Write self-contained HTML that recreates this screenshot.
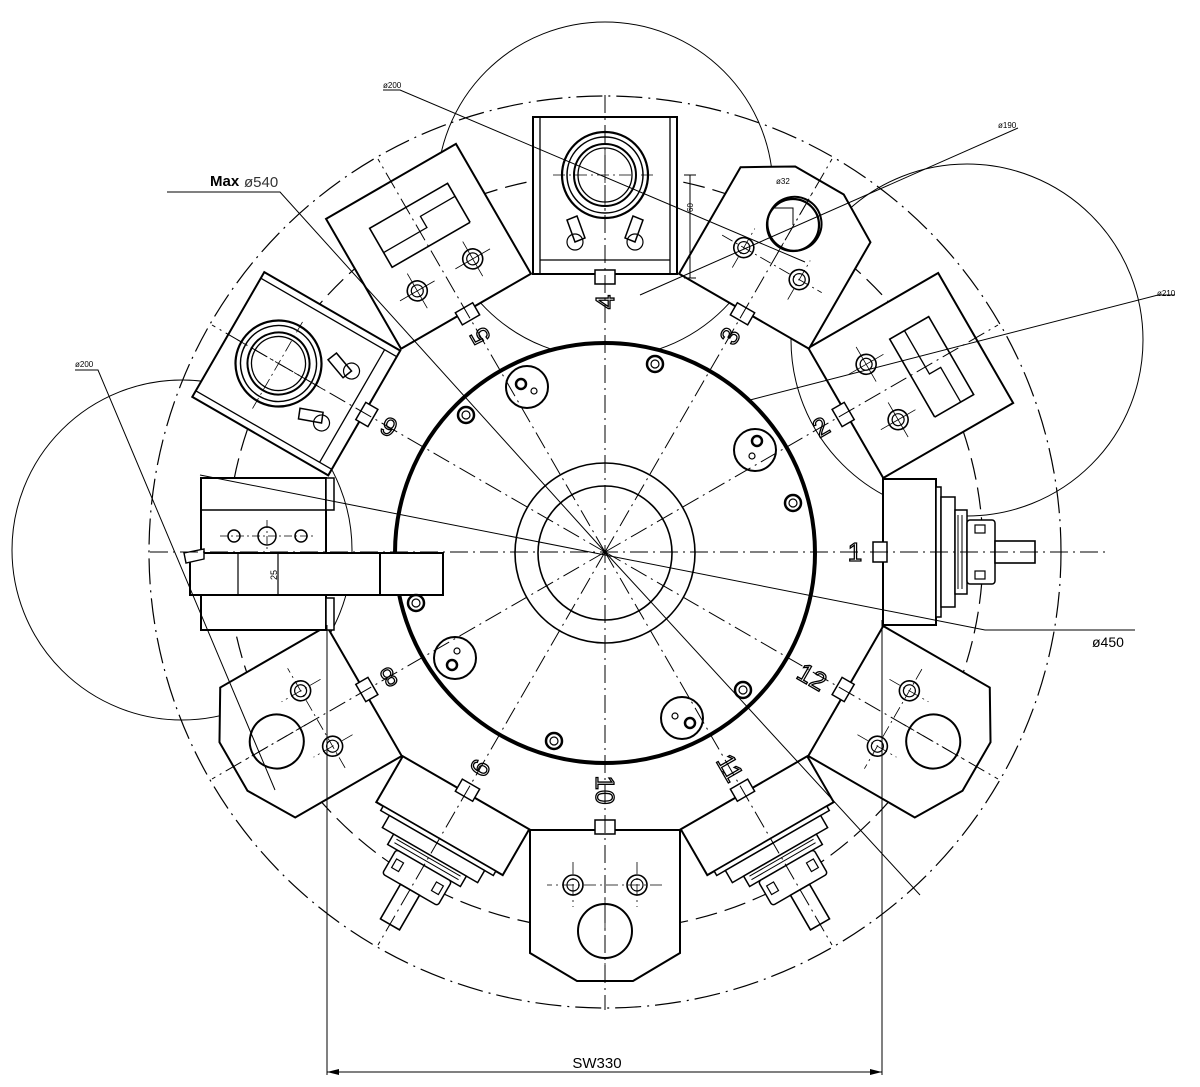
<!DOCTYPE html>
<html><head><meta charset="utf-8"><style>
html,body{margin:0;padding:0;background:#fff}
svg{display:block}
text{font-family:"Liberation Sans",sans-serif}
</style></head><body>
<svg width="1200" height="1087" viewBox="0 0 1200 1087" xmlns="http://www.w3.org/2000/svg">
<defs>
<g id="key"><rect x="873" y="542" width="14" height="20" fill="#fff" stroke="#000" stroke-width="1.5"/></g>
<g id="rectSlot" fill="none" stroke="#000">
 <polygon points="883,477 1033,477 1033,627 883,627" stroke-width="2" fill="#fff"/>
 <circle cx="925" cy="520" r="10" stroke-width="1.6"/><circle cx="925" cy="520" r="6" stroke-width="1.2"/>
 <circle cx="925" cy="584" r="10" stroke-width="1.6"/><circle cx="925" cy="584" r="6" stroke-width="1.2"/>
 <polyline points="958,600 1003,600 1003,510 958,510 958,600" stroke-width="1.6"/>
 <polyline points="975,510 975,560 988,560 988,600" stroke-width="1.3"/>
 <path d="M905,520 H945 M925,500 V540 M905,584 H945 M925,564 V604" stroke-width="0.8"/>
</g>
<g id="boring" fill="none" stroke="#000">
 <polygon points="883,480 1040,480 1040,624 883,624" stroke-width="2" fill="#fff"/>
 <path d="M883,487 H1040 M883,617 H1040 M897,487 V617" stroke-width="1.3"/>
 <circle cx="982" cy="552" r="43" stroke-width="2.2"/><circle cx="982" cy="552" r="38" stroke-width="1.5"/>
 <circle cx="982" cy="552" r="31" stroke-width="2"/><circle cx="982" cy="552" r="27" stroke-width="1.3"/>
 <path d="M915,522 l22,-8 l4,10 l-22,8 z M915,582 l22,8 l4,-10 l-22,-8 z" stroke-width="1.5"/>
 <circle cx="915" cy="522" r="8" stroke-width="1.2"/><circle cx="915" cy="582" r="8" stroke-width="1.2"/>
 <path d="M930,552 H1034 M982,500 V604" stroke-width="0.8" stroke-dasharray="12,4,2,4"/>
</g>
<g id="chamfer" fill="none" stroke="#000">
 <polygon points="883,477 1006,477 1034,524 1034,580 1006,627 883,627" stroke-width="2" fill="#fff"/>
 <circle cx="938" cy="520" r="10" stroke-width="1.6"/><circle cx="938" cy="520" r="6" stroke-width="1.2"/>
 <circle cx="938" cy="584" r="10" stroke-width="1.6"/><circle cx="938" cy="584" r="6" stroke-width="1.2"/>
 <circle cx="984" cy="552" r="27" stroke-width="2"/>
 <path d="M938,495 V610 M915,520 H960 M915,584 H960 M950,552 H1020" stroke-width="0.8" stroke-dasharray="12,4,2,4"/>
</g>
<g id="driven" fill="none" stroke="#000">
 <rect x="883" y="479" width="53" height="146" stroke-width="2" fill="#fff"/>
 <rect x="936" y="487" width="5" height="130" stroke-width="1.5" fill="#fff"/>
 <rect x="941" y="497" width="14" height="110" stroke-width="1.5" fill="#fff"/>
 <rect x="955" y="510" width="12" height="84" stroke-width="1.5" fill="#fff"/>
 <path d="M958,515 V589 M962,515 V589" stroke-width="1"/>
 <rect x="967" y="520" width="28" height="64" rx="3" stroke-width="1.5" fill="#fff"/>
 <rect x="975" y="525" width="10" height="8" stroke-width="1.2"/><rect x="975" y="571" width="10" height="8" stroke-width="1.2"/>
 <rect x="995" y="541" width="40" height="22" stroke-width="1.6" fill="#fff"/>
</g>
</defs>

<!-- big thin circles -->
<g fill="none" stroke="#000" stroke-width="1">
 <circle cx="605" cy="190" r="168"/>
 <circle cx="967" cy="340" r="176"/>
 <circle cx="182" cy="550" r="170"/>
</g>

<!-- outer construction circles -->
<circle cx="605" cy="552" r="456" fill="none" stroke="#000" stroke-width="1.2" stroke-dasharray="26,6,2,6"/>
<circle cx="605" cy="552" r="378" fill="none" stroke="#000" stroke-width="1.2" stroke-dasharray="22,8"/>

<!-- stations -->
<g>
 <use href="#driven"/>
 <use href="#rectSlot" transform="rotate(-30 605 552)"/>
 <use href="#chamfer" transform="rotate(-60 605 552)"/>
 <use href="#boring" transform="rotate(-90 605 552)"/>
 <use href="#rectSlot" transform="rotate(-120 605 552)"/>
 <use href="#boring" transform="rotate(-150 605 552)"/>
 <use href="#chamfer" transform="rotate(150 605 552)"/>
 <use href="#driven" transform="rotate(120 605 552)"/>
 <use href="#chamfer" transform="rotate(90 605 552)"/>
 <use href="#driven" transform="rotate(60 605 552)"/>
 <use href="#chamfer" transform="rotate(30 605 552)"/>
</g>
<!-- station 7 left -->
<g fill="#fff" stroke="#000" stroke-width="2">
 <rect x="201" y="478" width="125" height="152"/>
 <path d="M201,510 H326 M326,478 V630" fill="none" stroke-width="1.5"/>
 <rect x="326" y="478" width="8" height="32" stroke-width="1.5"/>
 <rect x="326" y="598" width="8" height="32" stroke-width="1.5"/>
 <rect x="190" y="553" width="253" height="42"/>
 <path d="M238,553 V595 M278,553 V595" fill="none" stroke-width="1.2"/>
 <path d="M184,553 l20,-4 l0,10 l-18,4 z" stroke-width="1.4"/>
 <circle cx="234" cy="536" r="6" stroke-width="1.5"/><circle cx="267" cy="536" r="9" stroke-width="1.5"/><circle cx="301" cy="536" r="6" stroke-width="1.5"/>
 <path d="M220,536 H315 M267,520 V552" fill="none" stroke-width="0.8" stroke-dasharray="8,3,2,3"/>
</g>
<text x="272" y="585" font-size="9" transform="rotate(-90 272 580)">25</text>

<!-- keys -->
<g>
 <use href="#key"/>
 <use href="#key" transform="rotate(-30 605 552)"/><use href="#key" transform="rotate(-60 605 552)"/>
 <use href="#key" transform="rotate(-90 605 552)"/><use href="#key" transform="rotate(-120 605 552)"/>
 <use href="#key" transform="rotate(-150 605 552)"/><use href="#key" transform="rotate(150 605 552)"/>
 <use href="#key" transform="rotate(120 605 552)"/><use href="#key" transform="rotate(90 605 552)"/>
 <use href="#key" transform="rotate(60 605 552)"/><use href="#key" transform="rotate(30 605 552)"/>
</g>

<!-- turret disk -->
<circle cx="605" cy="553" r="210" fill="#fff" stroke="#000" stroke-width="4"/>
<rect x="380" y="553" width="63" height="42" fill="#fff" stroke="#000" stroke-width="2"/>
<g fill="none" stroke="#000" stroke-width="1.6">
 <circle cx="605" cy="553" r="90"/><circle cx="605" cy="553" r="67"/>
</g>
<!-- radial dash-dot lines -->
<g stroke="#000" stroke-width="1" stroke-dasharray="18,5,2,5" fill="none">
 <path d="M150,552 H1105"/>
 <path d="M605,95 V1010"/>
 <path d="M605,552 L998,325 M605,552 L212,779"/>
 <path d="M605,552 L832,159 M605,552 L378,945"/>
 <path d="M605,552 L378,159 M605,552 L832,945"/>
 <path d="M605,552 L212,325 M605,552 L998,779"/>
</g>
<!-- holes -->
<g fill="none" stroke="#000">
 <g stroke-width="2">
  <circle cx="527" cy="387" r="21"/><circle cx="755" cy="450" r="21"/>
  <circle cx="455" cy="658" r="21"/><circle cx="682" cy="718" r="21"/>
 </g>
 <g stroke-width="2.5">
  <circle cx="521" cy="384" r="5"/><circle cx="757" cy="441" r="5"/>
  <circle cx="452" cy="665" r="5"/><circle cx="690" cy="723" r="5"/>
 </g>
 <g stroke-width="1.2">
  <circle cx="534" cy="391" r="3"/><circle cx="752" cy="456" r="3"/>
  <circle cx="457" cy="651" r="3"/><circle cx="675" cy="716" r="3"/>
 </g>
 <g stroke-width="2.5">
  <circle cx="655" cy="364" r="8"/><circle cx="466" cy="415" r="8"/><circle cx="793" cy="503" r="8"/>
  <circle cx="416" cy="603" r="8"/><circle cx="554" cy="741" r="8"/><circle cx="743" cy="690" r="8"/>
 </g>
 <g stroke-width="1.2">
  <circle cx="655" cy="364" r="4"/><circle cx="466" cy="415" r="4"/><circle cx="793" cy="503" r="4"/>
  <circle cx="416" cy="603" r="4"/><circle cx="554" cy="741" r="4"/><circle cx="743" cy="690" r="4"/>
 </g>
 <circle cx="793" cy="225" r="26" stroke-width="2.2" fill="none"/>
</g>

<!-- leader lines -->
<g stroke="#000" stroke-width="1" fill="none">
 <path d="M167,192 H280 L605,552"/>
 <path d="M605,552 L920,895"/>
 <path d="M200,475 L985,630 H1135"/>
 <path d="M383,90 H400 L805,262"/>
 <path d="M1018,128 L640,295"/>
 <path d="M1175,295 H1158 L750,400"/>
 <path d="M75,370 H98 L275,790"/>
 <path d="M773,208 H793 V225"/>
 <path d="M690,175 V278 M684,175 H696 M684,278 H696"/>
 <path d="M327,625 V1075 M882,620 V1075"/>
 <path d="M327,1072 H882"/>
</g>
<path d="M327,1072 l12,-3 v6 z M882,1072 l-12,-3 v6 z" fill="#000"/>

<!-- text -->
<g font-size="26" text-anchor="middle" dominant-baseline="central" fill="none" stroke="#000" stroke-width="1.3">
 <text x="855" y="552">1</text>
 <text transform="rotate(-30 821 427)" x="821" y="427">2</text>
 <text transform="rotate(-60 730 336)" x="730" y="336">3</text>
 <text transform="rotate(-90 605 302)" x="605" y="302">4</text>
 <text transform="rotate(-120 480 336)" x="480" y="336">5</text>
 <text transform="rotate(-150 389 427)" x="389" y="427">6</text>
 <text transform="rotate(150 389 677)" x="389" y="677">8</text>
 <text transform="rotate(120 480 768)" x="480" y="768">9</text>
 <text transform="rotate(90 605 790)" x="605" y="790">10</text>
 <text transform="rotate(60 730 768)" x="730" y="768">11</text>
 <text transform="rotate(30 812 677)" x="812" y="677">12</text>
</g>
<text x="210" y="186" font-size="15" font-weight="bold">Max</text>
<text x="244" y="187" font-size="15" fill="#333">ø540</text>
<text x="1092" y="647" font-size="14">ø450</text>
<text x="597" y="1068" font-size="15" text-anchor="middle">SW330</text>
<g font-size="8">
 <text x="383" y="88">ø200</text>
 <text x="998" y="128">ø190</text>
 <text x="1157" y="296">ø210</text>
 <text x="75" y="367">ø200</text>
 <text x="776" y="184">ø32</text>
 <text x="690" y="215" transform="rotate(-90 690 212)">60</text>
</g>
</svg>
</body></html>
